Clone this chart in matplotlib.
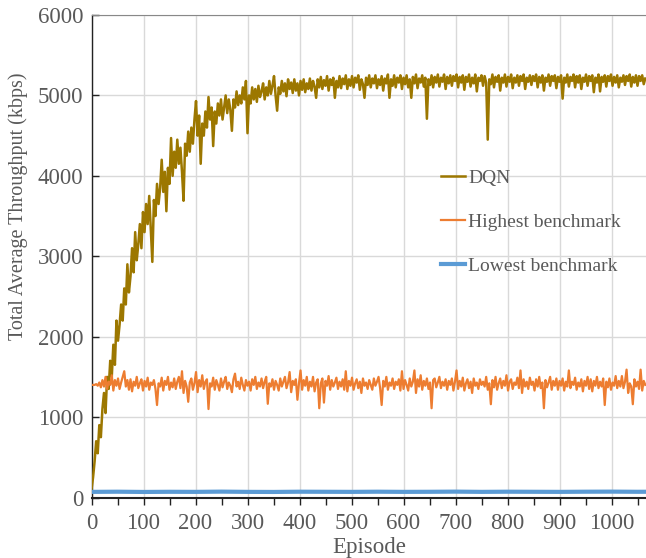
import numpy as np
import matplotlib
matplotlib.use("Agg")
import matplotlib.pyplot as plt

# ---------------- data ----------------
step = 3  # episodes between stored samples
dqn = [
    100, 250, 450, 700, 550, 900, 750, 1100, 1300, 1050, 1500, 1350, 1700, 1500, 1900, 1650, 2200, 1950, 2150, 2400,
    2200, 2600, 2400, 2900, 2550, 2750, 3100, 2800, 3300, 2950, 3150, 3400, 3100, 3550, 3300, 3650, 3400, 3750, 3350, 2930,
    3700, 3500, 3900, 3650, 3850, 4200, 3800, 4050, 3560, 4100, 3900, 4470, 4000, 4300, 4100, 4450, 4150, 4350, 4050, 3690,
    4400, 4250, 4550, 4300, 4600, 4400, 4700, 4930, 4500, 4750, 4150, 4650, 4500, 4800, 4600, 4980, 4700, 4850, 4370, 4800,
    4650, 4900, 4750, 4950, 4700, 4850, 5000, 4780, 4950, 4820, 4560, 4950, 4850, 5050, 4880, 5000, 4900, 5100, 4950, 5180,
    4530, 5000, 4900, 5100, 4950, 5080, 4920, 5120, 4980, 5050, 5150, 4950, 5100, 5000, 5180, 5020, 5120, 5240, 5000, 4810,
    5100, 5020, 5180, 5050, 5150, 4990, 5200, 5080, 5160, 5030, 5200, 5060, 5150, 5000, 5180, 5070, 5200, 5040, 5150, 5080,
    5210, 5060, 5180, 5110, 4970, 5200, 5100, 5230, 5080, 5190, 5120, 5240, 5060, 5200, 5130, 5220, 4970, 5180, 5100, 5240,
    5090, 5210, 5140, 5250, 5080, 5200, 5120, 5240, 5100, 5220, 5160, 5250, 5070, 5200, 5140, 4970, 5220, 5130, 5250, 5100,
    5210, 5150, 5250, 5090, 5200, 5130, 5240, 5060, 5210, 5150, 5260, 4970, 5200, 5120, 5250, 5100, 5220, 5160, 5250, 5080,
    5220, 5140, 5250, 5100, 5200, 4970, 5230, 5150, 5260, 5090, 5210, 5160, 5250, 5110, 5220, 4710, 5200, 5130, 5250, 5100,
    5230, 5160, 5260, 5110, 5220, 5170, 5260, 5080, 5230, 5150, 5250, 5120, 5240, 5180, 5260, 5100, 5230, 5160, 5250, 5070,
    5230, 5170, 5260, 5110, 5220, 5150, 5260, 5050, 5220, 5180, 5250, 5120, 5240, 5160, 4450, 5200, 5140, 5260, 5100, 5230,
    5170, 5250, 5060, 5220, 5160, 5260, 5110, 5230, 5170, 5260, 5090, 5220, 5160, 5250, 5120, 5240, 5180, 5260, 5080, 5220,
    5170, 5250, 5130, 5240, 5180, 5260, 5100, 5230, 5160, 5250, 5060, 5220, 5170, 5260, 5120, 5240, 5180, 5250, 5090, 5230,
    5170, 5250, 4960, 5220, 5160, 5260, 5110, 5230, 5180, 5260, 5100, 5240, 5160, 5250, 5080, 5220, 5170, 5260, 5120, 5240,
    5180, 5250, 5040, 5220, 5160, 5260, 5050, 5230, 5170, 5250, 5110, 5240, 5180, 5260, 5120, 5230, 5160, 5250, 5100, 5220,
    5170, 5250, 5130, 5240, 5180, 5260, 5110, 5230, 5160, 5250, 5120, 5240, 5180, 5250, 5140, 5210,
]
highest = [
    1400, 1400, 1400, 1410, 1390, 1430, 1370, 1460, 1380, 1500, 1350, 1440, 1400, 1520, 1330, 1460, 1390, 1480, 1350, 1430,
    1500, 1570, 1380, 1460, 1340, 1470, 1320, 1440, 1390, 1500, 1360, 1420, 1470, 1330, 1450, 1380, 1490, 1340, 1430, 1400,
    1460, 1350, 1150, 1420, 1380, 1490, 1330, 1450, 1400, 1500, 1340, 1430, 1370, 1480, 1350, 1440, 1500, 1360, 1570, 1300,
    1450, 1380, 1190, 1430, 1480, 1340, 1420, 1560, 1310, 1460, 1380, 1520, 1350, 1440, 1470, 1100, 1420, 1380, 1490, 1340,
    1460, 1400, 1330, 1480, 1370, 1440, 1500, 1350, 1430, 1390, 1310, 1470, 1540, 1380, 1440, 1350, 1490, 1400, 1330, 1460,
    1390, 1440, 1330, 1470, 1400, 1500, 1350, 1430, 1380, 1480, 1360, 1440, 1500, 1165, 1420, 1380, 1470, 1340, 1450, 1400,
    1330, 1480, 1380, 1440, 1500, 1360, 1430, 1560, 1310, 1450, 1400, 1470, 1215, 1420, 1580, 1340, 1460, 1390, 1500, 1330,
    1440, 1380, 1500, 1320, 1430, 1470, 1110, 1420, 1480, 1180, 1450, 1390, 1510, 1340, 1460, 1380, 1430, 1490, 1350, 1440,
    1380, 1470, 1340, 1570, 1320, 1450, 1390, 1490, 1340, 1420, 1470, 1360, 1440, 1300, 1480, 1390, 1430, 1350, 1460, 1400,
    1340, 1480, 1390, 1440, 1500, 1360, 1150, 1450, 1380, 1500, 1340, 1430, 1390, 1480, 1350, 1440, 1400, 1470, 1330, 1570,
    1350, 1460, 1400, 1330, 1480, 1380, 1440, 1580, 1300, 1470, 1380, 1520, 1340, 1450, 1390, 1480, 1350, 1430, 1110, 1460,
    1480, 1370, 1430, 1500, 1360, 1440, 1390, 1470, 1340, 1450, 1400, 1480, 1330, 1440, 1580, 1350, 1450, 1380, 1490, 1330,
    1420, 1470, 1360, 1440, 1300, 1480, 1390, 1430, 1350, 1470, 1400, 1440, 1380, 1500, 1340, 1420, 1160, 1460, 1370, 1500,
    1340, 1420, 1480, 1360, 1450, 1390, 1520, 1330, 1440, 1470, 1350, 1430, 1400, 1490, 1360, 1580, 1300, 1470, 1380, 1440,
    1350, 1490, 1400, 1440, 1330, 1470, 1380, 1500, 1360, 1430, 1110, 1460, 1370, 1430, 1500, 1340, 1450, 1390, 1480, 1340,
    1450, 1390, 1480, 1330, 1440, 1380, 1580, 1360, 1440, 1400, 1490, 1340, 1430, 1380, 1470, 1320, 1450, 1390, 1500, 1350,
    1470, 1320, 1450, 1390, 1500, 1360, 1440, 1380, 1480, 1150, 1440, 1370, 1480, 1340, 1430, 1390, 1510, 1360, 1450, 1380,
    1510, 1360, 1440, 1590, 1300, 1420, 1380, 1160, 1470, 1380, 1440, 1350, 1590, 1330, 1450, 1400,
]
lowest_step = 50
lowest = [70, 72, 69, 71, 70, 73, 70, 69, 72, 71, 70, 72, 70, 71, 73, 70, 72, 71, 70, 72, 73, 71, 72]

series_names = ["DQN", "Highest benchmark", "Lowest benchmark"]
colors = ["#9C7700", "#ED7D31", "#5B9BD5"]
x_ticks = [0, 100, 200, 300, 400, 500, 600, 700, 800, 900, 1000]
y_ticks = [0, 1000, 2000, 3000, 4000, 5000, 6000]

ep_dqn = np.arange(len(dqn)) * step
ep_high = np.arange(len(highest)) * step
ep_low = np.arange(len(lowest)) * lowest_step

# ---------------- figure ----------------
plt.rcParams['font.family'] = ['Liberation Serif', 'DejaVu Serif']
fig = plt.figure(figsize=(6.46, 5.58), dpi=100)
ax = fig.add_axes([91.5 / 646, 1 - 497.5 / 558, 1 - 91.5 / 646, (497.5 - 15) / 558])

ax.plot(ep_dqn, dqn, color=colors[0], lw=1.8, label=series_names[0], zorder=3)
ax.plot(ep_high, highest, color=colors[1], lw=1.6, label=series_names[1], zorder=3)
ax.plot(ep_low, lowest, color=colors[2], lw=3.0, label=series_names[2], zorder=3)

ax.set_xticks(x_ticks)
ax.set_xticks(np.arange(0, 1051, 50), minor=True)
ax.set_yticks(y_ticks)
ax.set_xlim(0, (646 - 91.5) / 0.52)
ax.set_ylim(0, 6000)

ax.grid(True, which='major', color='#d9d9d9', lw=1.0, zorder=0)
ax.set_axisbelow(True)

ax.spines['right'].set_visible(False)
ax.spines['top'].set_color('#888888')
ax.spines['left'].set_color('#222222')
ax.spines['bottom'].set_color('#222222')
ax.spines['left'].set_linewidth(1.0)
ax.spines['bottom'].set_linewidth(1.5)

ax.tick_params(axis='x', which='both', direction='out', length=5, width=1, color='#222222',
               labelsize=16.5, labelcolor='#595959', pad=6)
ax.tick_params(axis='y', which='both', direction='in', length=5, width=1, color='#222222',
               labelsize=16.5, labelcolor='#595959', pad=6)

ax.set_xlabel('Episode', fontsize=16.5, color='#595959')
ax.xaxis.set_label_coords(0.5, -(548 - 497.5) / 482.5, transform=ax.transAxes)
ax.xaxis.label.set_va('center')
ax.set_ylabel('Total Average Throughput (kbps)', fontsize=14.5, color='#595959')
ax.yaxis.set_label_coords((18 - 91.5) / 554.5, (497.5 - 206) / 482.5, transform=ax.transAxes)
ax.yaxis.label.set_va('center')

leg = ax.legend(loc='center left', bbox_to_anchor=(441 / 646, 1 - 222 / 558),
                bbox_transform=fig.transFigure, frameon=False, fontsize=14,
                handlelength=1.25, handletextpad=0.15, labelspacing=1.35,
                borderpad=0, borderaxespad=0)
for t in leg.get_texts():
    t.set_color('#595959')

fig.savefig('out.png', dpi=100)
